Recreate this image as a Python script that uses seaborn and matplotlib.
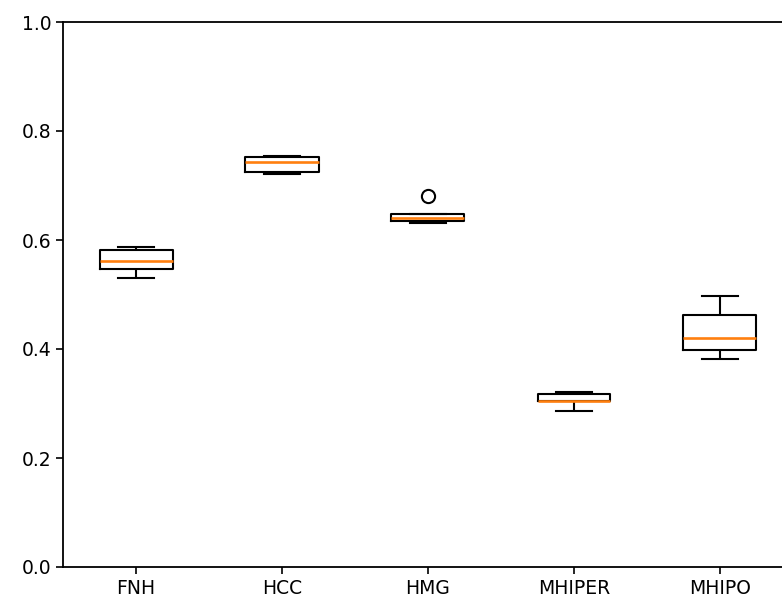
import matplotlib
matplotlib.use("Agg")
import matplotlib.pyplot as plt
import seaborn as sns
import pandas as pd

categories = ["FNH", "HCC", "HMG", "MHIPER", "MHIPO"]
fnh = [0.531, 0.547, 0.561, 0.582, 0.587]
hcc = [0.7206, 0.725, 0.743, 0.752, 0.755]
hmg = [0.631, 0.632, 0.634, 0.637, 0.640, 0.643, 0.647, 0.648, 0.681]
mhiper = [0.287, 0.304, 0.305, 0.317, 0.3205]
mhipo = [0.3817, 0.398, 0.4196, 0.462, 0.497]
yticks = [0.0, 0.2, 0.4, 0.6, 0.8, 1.0]

series = [fnh, hcc, hmg, mhiper, mhipo]
rows = []
for cat, vals in zip(categories, series):
    for v in vals:
        rows.append({"group": cat, "value": v})
df = pd.DataFrame(rows)

fig = plt.figure(figsize=(7.82, 6.01), dpi=100)
ax = fig.add_axes([63 / 782, 34 / 601, 730 / 782, 545 / 601])

sns.boxplot(
    data=df, x="group", y="value", order=categories, ax=ax,
    width=0.5, fill=False, color="black", linewidth=1.5,
    medianprops={"color": "#ff7f0e", "linewidth": 1.9},
    flierprops={"marker": "o", "markerfacecolor": "none",
                "markeredgecolor": "black", "markersize": 9.5,
                "markeredgewidth": 1.5},
)

ax.set_xlim(-0.5, 4.5)
ax.set_ylim(0, 1.0)
ax.set_yticks(yticks)
ax.set_yticklabels([f"{t:.1f}" for t in yticks])
ax.set_xlabel("")
ax.set_ylabel("")
ax.tick_params(labelsize=13.5, length=5, width=1.2)
for s in ax.spines.values():
    s.set_linewidth(1.3)

fig.savefig("out.png", dpi=100)
